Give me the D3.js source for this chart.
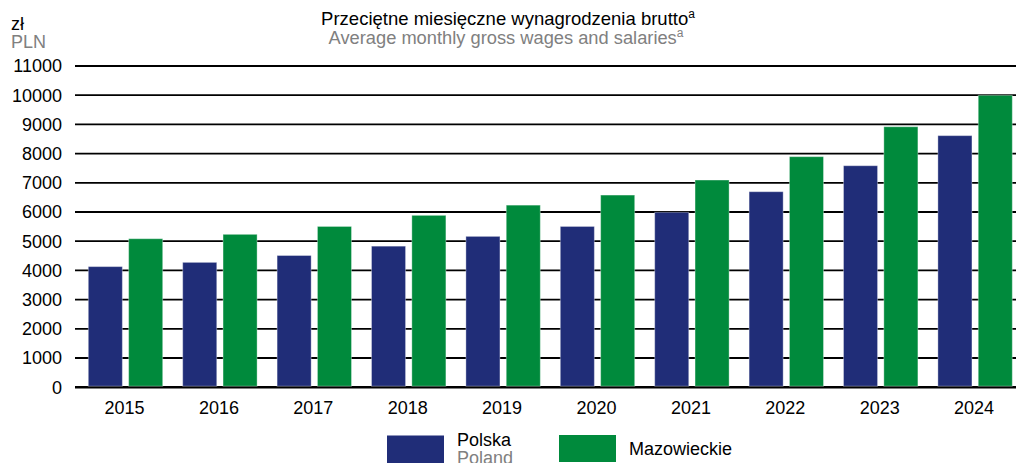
<!DOCTYPE html>
<html>
<head>
<meta charset="utf-8">
<script src="https://cdn.jsdelivr.net/npm/d3@7"></script>
<style>
  body { margin: 0; background: #fff; }
  svg { display: block; font-family: "Liberation Sans", Arial, sans-serif; }
</style>
</head>
<body>
<div id="chart"></div>
<script>
// chart data
var years = ["2015", "2016", "2017", "2018", "2019", "2020", "2021", "2022", "2023", "2024"];
var polska = [4130, 4275, 4510, 4830, 5165, 5505, 5990, 6695, 7585, 8615];
var mazowieckie = [5085, 5235, 5505, 5885, 6235, 6580, 7095, 7895, 8920, 9995];
var yTicks = [0, 1000, 2000, 3000, 4000, 5000, 6000, 7000, 8000, 9000, 10000, 11000];
var seriesNames = ["Polska", "Mazowieckie"];

var width = 1016;
var height = 463;

var blue = "#202d78";
var green = "#008a3c";

var svg = d3.select("#chart")
  .append("svg")
    .attr("width", width)
    .attr("height", height);

// scales
var x = d3.scaleBand()
  .domain(years)
  .range([78.3, 1022.3]);

var xSub = d3.scaleBand()
  .domain(seriesNames)
  .range([10, 84.4])
  .paddingInner(0.156);

var y = d3.scaleLinear()
  .domain([0, 11000])
  .range([387.2, 66]);

// gridlines (drawn under the bars)
svg.append("g")
  .selectAll("line")
  .data(yTicks)
  .enter()
  .append("line")
    .attr("x1", 75)
    .attr("x2", width)
    .attr("y1", function(d) { return y(d); })
    .attr("y2", function(d) { return y(d); })
    .attr("stroke", "#000")
    .attr("stroke-width", function(d) { return d === 0 ? 2.4 : 1.8; });

// y tick labels
svg.append("g")
  .selectAll("text")
  .data(yTicks)
  .enter()
  .append("text")
    .attr("x", 62)
    .attr("y", function(d) { return y(d); })
    .attr("dy", "0.35em")
    .attr("text-anchor", "end")
    .style("font-size", "18px")
    .style("fill", "#000")
    .text(function(d) { return d; });

// bars
var rows = years.map(function(yr, i) {
  return { year: yr, values: [
    { key: "Polska", value: polska[i] },
    { key: "Mazowieckie", value: mazowieckie[i] }
  ]};
});

var groups = svg.append("g")
  .selectAll("g")
  .data(rows)
  .enter()
  .append("g")
    .attr("transform", function(d) { return "translate(" + x(d.year) + ",0)"; });

groups.selectAll("rect")
  .data(function(d) { return d.values; })
  .enter()
  .append("rect")
    .attr("x", function(d) { return xSub(d.key); })
    .attr("width", xSub.bandwidth())
    .attr("y", function(d) { return y(d.value); })
    .attr("height", function(d) { return y(0) - y(d.value) - 1; })
    .attr("fill", function(d) { return d.key === "Polska" ? blue : green; })
    .attr("stroke", "#ffffff")
    .attr("stroke-opacity", 0.35)
    .attr("stroke-width", 1);

// x labels
svg.append("g")
  .selectAll("text")
  .data(years)
  .enter()
  .append("text")
    .attr("x", function(d) { return x(d) + x.bandwidth() / 2 - 1; })
    .attr("y", 413.5)
    .attr("text-anchor", "middle")
    .style("font-size", "18px")
    .style("fill", "#000")
    .text(function(d) { return d; });

// unit labels
svg.append("text")
  .attr("x", 11).attr("y", 30)
  .style("font-size", "18px").style("fill", "#000")
  .text("zł");
svg.append("text")
  .attr("x", 11).attr("y", 48)
  .style("font-size", "18px").style("fill", "#808080")
  .text("PLN");

// title
var title = svg.append("text")
  .attr("x", 508).attr("y", 25)
  .attr("text-anchor", "middle")
  .style("font-size", "18.5px").style("fill", "#000");
title.append("tspan").text("Przeciętne miesięczne wynagrodzenia brutto");
title.append("tspan").attr("dy", -7).style("font-size", "12px").text("a");

var subtitle = svg.append("text")
  .attr("x", 506).attr("y", 44)
  .attr("text-anchor", "middle")
  .style("font-size", "18.3px").style("fill", "#808080");
subtitle.append("tspan").text("Average monthly gross wages and salaries");
subtitle.append("tspan").attr("dy", -7).style("font-size", "12px").text("a");

// legend
svg.append("rect")
  .attr("x", 387).attr("y", 435.5).attr("width", 57).attr("height", 30)
  .attr("fill", blue);
svg.append("text")
  .attr("x", 457).attr("y", 446)
  .style("font-size", "18px").style("fill", "#000")
  .text("Polska");
svg.append("text")
  .attr("x", 457).attr("y", 463.5)
  .style("font-size", "18px").style("fill", "#808080")
  .text("Poland");

svg.append("rect")
  .attr("x", 559).attr("y", 435).attr("width", 57).attr("height", 27)
  .attr("fill", green);
svg.append("text")
  .attr("x", 629).attr("y", 455)
  .style("font-size", "18px").style("fill", "#000")
  .text("Mazowieckie");
</script>
</body>
</html>
